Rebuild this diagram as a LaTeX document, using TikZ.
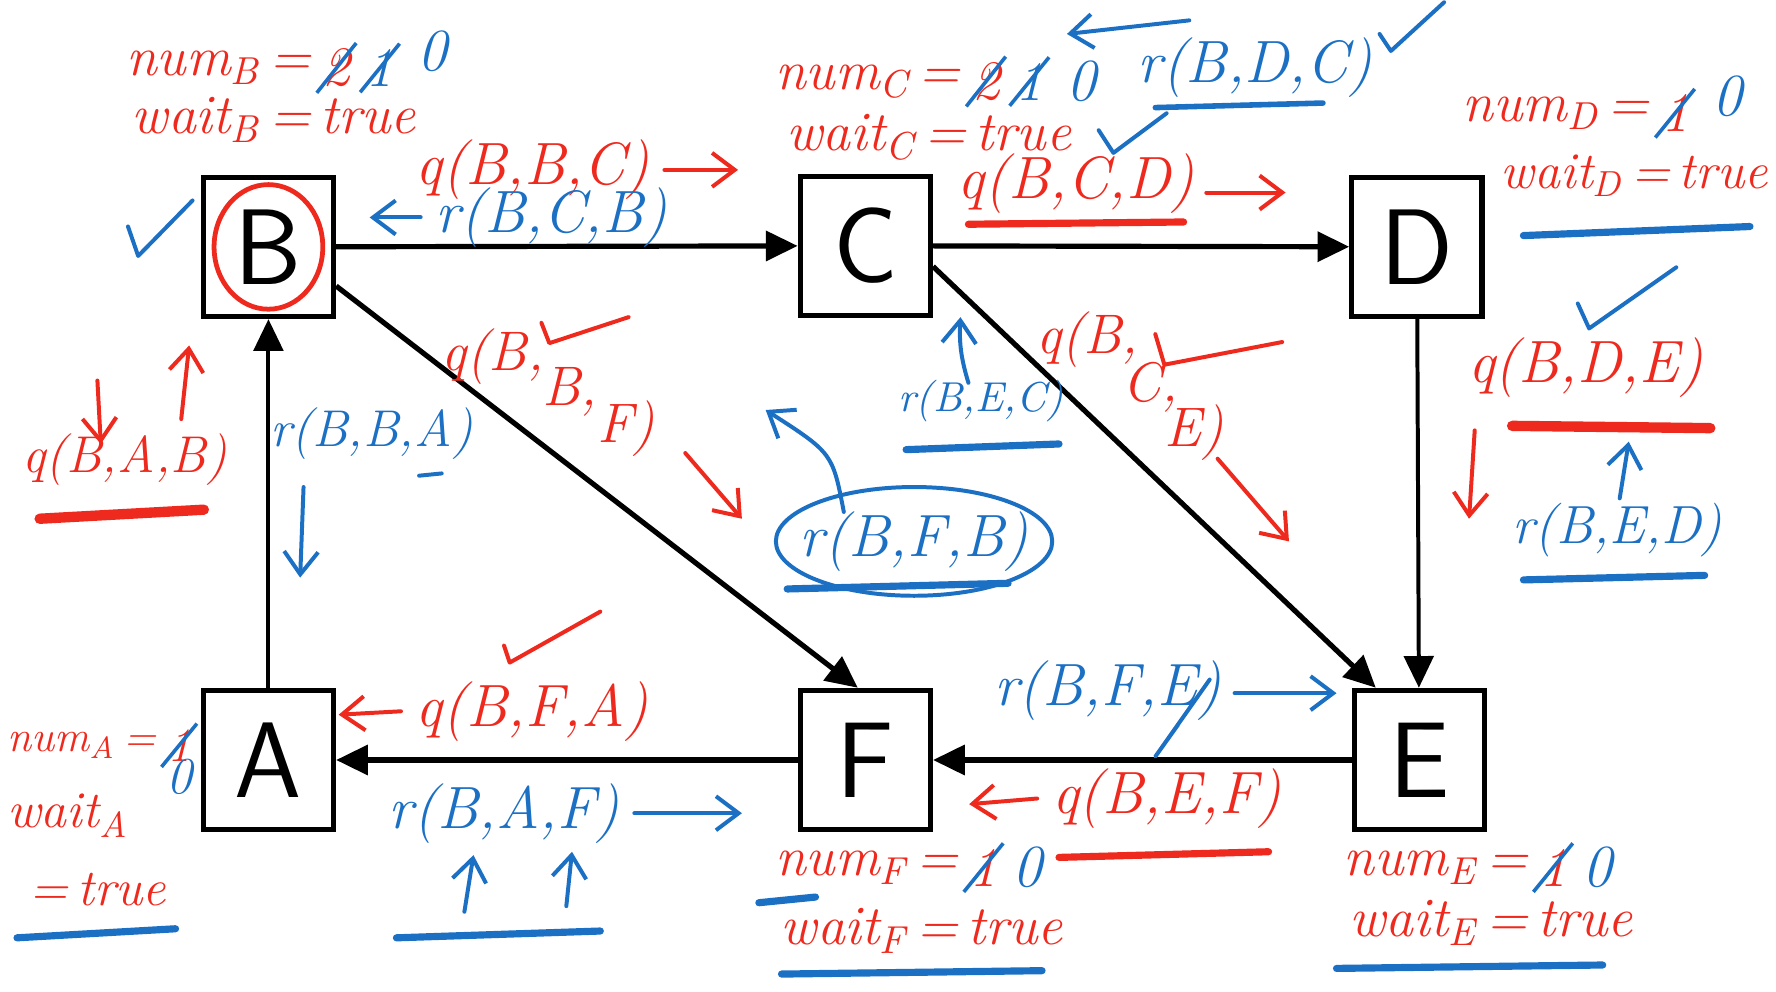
\documentclass[tikz,border=0pt]{standalone}
\usepackage{fontspec}
\usepackage{xcolor}
\usetikzlibrary{arrows.meta, positioning, shapes.misc}
\definecolor{inkred}{RGB}{238,42,30}
\definecolor{inkblue}{RGB}{28,112,196}

\begin{document}
\begin{tikzpicture}[x=0.1mm, y=-0.1mm, line width=0.8pt,
  proc/.style={draw, line width=1.3pt, minimum width=11.5mm, minimum height=12.3mm,
    inner sep=0pt, font=\sffamily\fontsize{27}{27}\selectfont},
  link/.style={-{Triangle[length=2.8mm, width=2.6mm]}, line width=1.3pt},
  qmsg/.style={inkred, font=\itshape\fontsize{15}{15}\selectfont},
  rmsg/.style={inkblue, font=\itshape\fontsize{15}{15}\selectfont},
  small/.style={font=\itshape\fontsize{#1}{#1}\selectfont},
  varlab/.style={inkred, font=\itshape\fontsize{14}{14}\selectfont, inner sep=0pt},
  oldval/.style={strike out, draw=inkblue, text=inkred, inner sep=1pt,
    line width=0.9pt, font=\itshape\fontsize{14}{14}\selectfont},
  newval/.style={inkblue, inner sep=1pt, font=\itshape\fontsize{15}{15}\selectfont},
  ink/.style={line width=1pt, line cap=round, line join=round},
  inkarrow/.style={ink, -{Straight Barb[length=2mm, width=3mm]}},
  uline/.style={line width=1.8pt, line cap=round}]
  \useasboundingbox (0,0) rectangle (1568,875);

  % processes
  \node[proc] (B) at (237,218) {B};
  \node[proc] (C) at (764,217) {C};
  \node[proc] (D) at (1251,218) {D};
  \node[proc] (A) at (237,671) {A};
  \node[proc] (F) at (764,671) {F};
  \node[proc] (E) at (1253,671) {E};

  % channels
  \draw[link] (B) -- (C);
  \draw[link] (C) -- (D);
  \draw[link, line width=1pt] (A) -- (B);
  \draw[link] (B.-30) -- (F.96);
  \draw[link] (C.-17) -- (E.121);
  \draw[link, line width=1pt] (D) -- (E);
  \draw[link] (F) -- (A);
  \draw[link] (E) -- (F);

  % initiator B
  \draw[ink, inkred, line width=1.2pt] (B.center) ellipse (48 and 55);
  \draw[ink, inkblue] (113,200) -- (122,226) -- (170,177);
  \node[varlab, anchor=west] (numB) at (110,60) {num\textsubscript{B}\,=};
  \node[oldval, right=1pt of numB] (numBtwo) {2};
  \node[oldval, text=inkblue, right=1pt of numBtwo] (numBone) {1};
  \node[newval, right=3pt of numBone, yshift=1.5mm] (numBzero) {0};
  \node[varlab, anchor=west] (waitB) at (115,106) {wait\textsubscript{B}\,=\,true};

  % B -> C
  \node[qmsg] (qBBC) at (470,150) {q(B,B,C)};
  \draw[inkarrow, inkred] (qBBC.east) -- ++(65,0);
  \node[rmsg] (rBCB) at (487,192) {r(B,C,B)};
  \draw[inkarrow, inkblue] (rBCB.west) -- ++(-45,0);

  % C
  \node[varlab, anchor=west] (numC) at (683,72) {num\textsubscript{C}\,=};
  \node[oldval, right=1pt of numC] (numCtwo) {2};
  \node[oldval, text=inkblue, right=1pt of numCtwo] (numCone) {1};
  \node[newval, right=3pt of numCone] (numCzero) {0};
  \node[varlab, anchor=west] (waitC) at (693,121) {wait\textsubscript{C}\,=\,true};
  \node[rmsg] (rBDC) at (1108,60) {r(B,D,C)};
  \draw[ink, inkblue, line width=1.4pt] (1020,95) -- (1168,91);
  \draw[inkarrow, inkblue] (1050,18) -- (942,30);
  \draw[ink, inkblue] (1218,30) -- (1228,45) -- (1275,2);
  \draw[ink, inkblue] (970,115) -- (983,135) -- (1030,100);

  % C -> D
  \node[qmsg] (qBCD) at (950,162) {q(B,C,D)};
  \draw[uline, inkred] (855,198) -- (1045,196);
  \draw[inkarrow, inkred] (1065,170) -- (1135,170);

  % D
  \node[varlab, anchor=west] (numD) at (1290,100) {num\textsubscript{D}\,=};
  \node[oldval, right=1pt of numD] (numDone) {1};
  \node[newval, right=3pt of numDone, yshift=1.5mm] (numDzero) {0};
  \node[varlab, small=13, anchor=east] (waitD) at (1562,155) {wait\textsubscript{D}\,=\,true};
  \draw[uline, inkblue] (1345,208) -- (1545,200);
  \draw[ink, inkblue] (1393,268) -- (1403,290) -- (1480,236);

  % D -> E
  \node[qmsg] (qBDE) at (1400,325) {q(B,D,E)};
  \draw[uline, inkred, line width=2.6pt] (1335,376) -- (1510,378);
  \draw[inkarrow, inkred] (1302,380) -- (1297,458);
  \draw[inkarrow, inkblue] (1430,440) -- (1438,390);
  \node[rmsg, small=13.5] (rBED) at (1428,468) {r(B,E,D)};
  \draw[uline, inkblue] (1345,512) -- (1505,508);

  % C -> E
  \node[qmsg, small=14] (qBCEa) at (960,300) {q(B,};
  \node[qmsg, small=14] (qBCEb) at (1016,342) {C,};
  \node[qmsg, small=14] (qBCEc) at (1054,382) {E)};
  \draw[ink, inkred] (1020,295) -- (1028,322) -- (1132,302);
  \draw[inkarrow, inkred] (1075,405) -- (1138,478);
  \node[rmsg, small=10.5] (rBEC) at (866,354) {r(B,E,C)};
  \draw[inkarrow, inkblue] (855,338) to[bend left=10] (848,280);
  \draw[uline, inkblue] (800,397) -- (935,392);

  % B -> F
  \node[qmsg, small=14] (qBBFa) at (435,315) {q(B,};
  \node[qmsg, small=14] (qBBFb) at (503,346) {B,};
  \node[qmsg, small=14] (qBBFc) at (553,378) {F)};
  \draw[ink, inkred] (478,285) -- (485,303) -- (555,280);
  \draw[inkarrow, inkred] (605,400) -- (655,458);
  \node[rmsg] (rBFB) at (807,478) {r(B,F,B)};
  \draw[ink, inkblue] (rBFB.center) ellipse (122 and 48);
  \draw[uline, inkblue] (695,520) -- (890,515);
  \draw[inkarrow, inkblue] (745,452) .. controls (735,400) .. (676,362);

  % A -> B
  \node[qmsg, small=13] (qBAB) at (110,406) {q(B,A,B)};
  \draw[uline, inkred, line width=2.6pt] (35,458) -- (180,450);
  \draw[inkarrow, inkred] (86,336) -- (89,392);
  \draw[inkarrow, inkred] (160,370) -- (167,305);
  \node[rmsg, small=13] (rBBA) at (328,383) {r(B,B,A)};
  \draw[inkarrow, inkblue] (268,430) -- (265,510);
  \draw[ink, inkblue] (370,420) -- (390,418);

  % A
  \node[varlab, small=11, anchor=west] (numA) at (5,658) {num\textsubscript{A}\,=};
  \node[oldval, small=12, right=1pt of numA] (numAone) {1};
  \node[newval, small=13] (numAzero) at (158,686) {0};
  \node[varlab, small=13, anchor=west] (waitA) at (5,720) {wait\textsubscript{A}};
  \node[varlab, small=13, anchor=west] (trueA) at (25,785) {=\,true};
  \draw[uline, inkblue] (15,828) -- (155,820);

  % F -> A
  \node[qmsg] (qBFA) at (470,628) {q(B,F,A)};
  \draw[inkarrow, inkred] (qBFA.west) -- ++(-55,3);
  \draw[ink, inkred] (445,570) -- (450,585) -- (530,540);
  \node[rmsg] (rBAF) at (445,718) {r(B,A,F)};
  \draw[inkarrow, inkblue] (rBAF.east) -- ++(95,0);
  \draw[inkarrow, inkblue] (410,805) -- (418,755);
  \draw[inkarrow, inkblue] (500,800) -- (505,752);
  \draw[uline, inkblue] (350,828) -- (530,822);

  % F
  \node[varlab, anchor=west] (numF) at (683,766) {num\textsubscript{F}\,=};
  \node[oldval, right=1pt of numF] (numFone) {1};
  \node[newval, right=1pt of numFone] (numFzero) {0};
  \draw[uline, inkblue] (670,797) -- (720,792);
  \node[varlab, anchor=west] (waitF) at (688,822) {wait\textsubscript{F}\,=\,true};
  \draw[uline, inkblue] (690,860) -- (920,857);

  % E -> F
  \node[rmsg] (rBFE) at (978,610) {r(B,F,E)};
  \draw[inkarrow, inkblue] (1090,612) -- (1180,612);
  \draw[ink, inkblue] (1040,640) -- (1020,668) -- (1068,600);
  \node[qmsg] (qBEF) at (1030,705) {q(B,E,F)};
  \draw[inkarrow, inkred] (qBEF.west) -- ++(-60,5);
  \draw[uline, inkred] (935,757) -- (1120,752);

  % E
  \node[varlab, anchor=west] (numE) at (1185,766) {num\textsubscript{E}\,=};
  \node[oldval, right=1pt of numE] (numEone) {1};
  \node[newval, right=1pt of numEone] (numEzero) {0};
  \node[varlab, anchor=west] (waitE) at (1190,815) {wait\textsubscript{E}\,=\,true};
  \draw[uline, inkblue] (1180,855) -- (1415,852);
\end{tikzpicture}
\end{document}
